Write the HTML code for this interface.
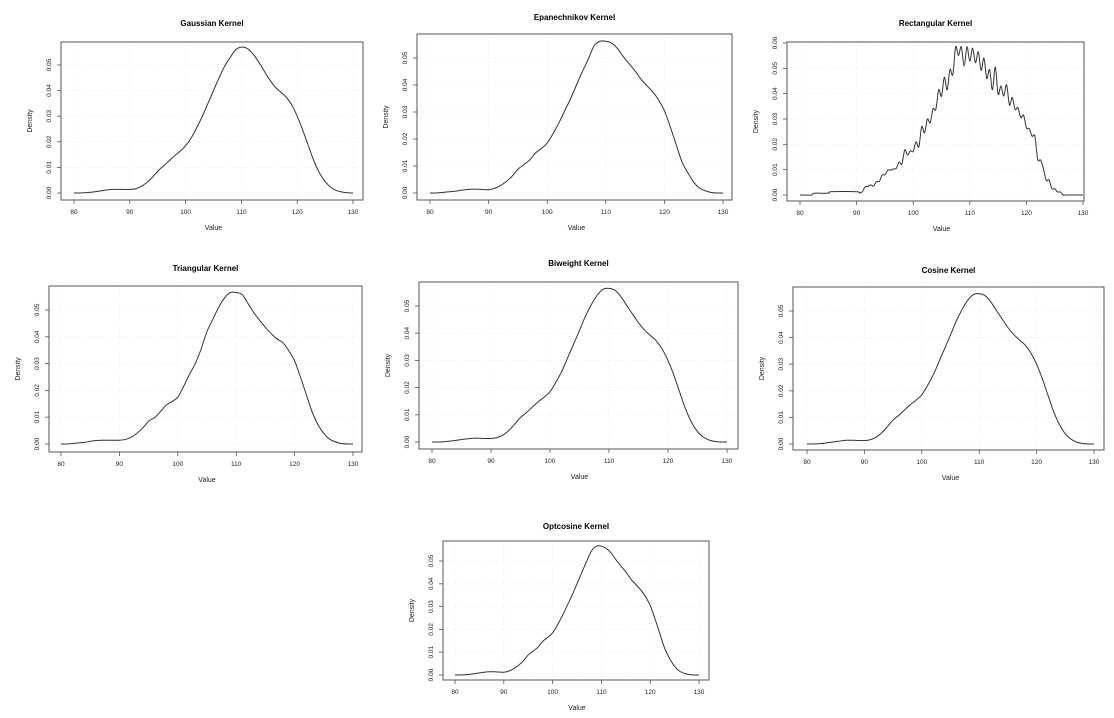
<!DOCTYPE html>
<html><head><meta charset="utf-8">
<style>
html,body{margin:0;padding:0;background:#fff;}
svg{display:block;font-family:"Liberation Sans",sans-serif;}
.t{font-size:8px;font-weight:bold;fill:#000;text-anchor:middle;}
.tk{font-size:6.5px;fill:#222;text-anchor:middle;}
.lab{font-size:7px;fill:#222;text-anchor:middle;}
</style></head>
<body>
<svg id="chart" width="1114" height="718" viewBox="0 0 1114 718"></svg>
<script>
const xTicks=[80,90,100,110,120,130];
const yTicksStd=[0,0.01,0.02,0.03,0.04,0.05];
const yTicksRect=[0,0.01,0.02,0.03,0.04,0.05,0.06];
const gridX=[80,81,82,83,84,85,86,87,88,89,90,91,92,93,94,95,96,97,98,99,100,101,102,103,104,105,106,107,108,109,110,111,112,113,114,115,116,117,118,119,120,121,122,123,124,125,126,127,128,129,130];
const gaussianY=[0,0,0.0001,0.0003,0.0006,0.0009,0.0012,0.0014,0.0014,0.0014,0.0014,0.0016,0.0025,0.004,0.006,0.0085,0.0105,0.0125,0.0145,0.0163,0.0185,0.0215,0.0255,0.030,0.035,0.040,0.045,0.0495,0.053,0.056,0.057,0.0565,0.0545,0.0515,0.048,0.0445,0.0415,0.0395,0.0375,0.0345,0.030,0.0245,0.0185,0.0125,0.0078,0.0045,0.0022,0.001,0.0004,0.0001,0];
const epanY=[0,0,0.0002,0.0004,0.0006,0.0009,0.0012,0.0014,0.0014,0.0013,0.0012,0.0017,0.0027,0.0042,0.0062,0.0088,0.0105,0.0122,0.0148,0.0165,0.0185,0.022,0.026,0.0305,0.035,0.040,0.045,0.0495,0.0545,0.0562,0.0562,0.0555,0.0535,0.0505,0.0478,0.0452,0.0422,0.0398,0.0375,0.0345,0.0305,0.0245,0.018,0.0115,0.0075,0.004,0.0018,0.0008,0.0002,0,0];
const triY=[0,0,0.0002,0.0004,0.0006,0.001,0.0013,0.0014,0.0014,0.0014,0.0014,0.0017,0.0025,0.004,0.006,0.0085,0.0098,0.012,0.0145,0.0158,0.0175,0.0215,0.026,0.030,0.0355,0.042,0.0465,0.051,0.0545,0.0565,0.0565,0.0558,0.0525,0.049,0.0462,0.0435,0.0412,0.0392,0.0378,0.0348,0.031,0.025,0.0185,0.012,0.0072,0.004,0.0018,0.0008,0.0002,0,0];
const biY=[0,0,0.0001,0.0003,0.0006,0.0009,0.0012,0.0014,0.0014,0.0013,0.0013,0.0016,0.0025,0.0042,0.0065,0.009,0.0108,0.0128,0.0148,0.0165,0.0185,0.022,0.026,0.031,0.036,0.041,0.0462,0.0505,0.054,0.0562,0.0565,0.0558,0.0535,0.0502,0.047,0.0438,0.0412,0.0392,0.0372,0.0342,0.030,0.0245,0.0182,0.012,0.0072,0.0038,0.0018,0.0007,0.0002,0,0];
const cosY=[0,0,0.0001,0.0003,0.0006,0.0009,0.0012,0.0014,0.0014,0.0013,0.0013,0.0016,0.0025,0.0042,0.0065,0.009,0.0108,0.0128,0.0148,0.0165,0.0185,0.022,0.026,0.031,0.036,0.041,0.0462,0.0505,0.054,0.0562,0.0565,0.0558,0.0535,0.0502,0.047,0.0438,0.0412,0.0392,0.0372,0.0342,0.030,0.0245,0.0182,0.012,0.0072,0.0038,0.0018,0.0007,0.0002,0,0];
const optY=[0,0,0.0001,0.0003,0.0006,0.0009,0.0012,0.0014,0.0014,0.0013,0.0012,0.0017,0.0027,0.0042,0.0062,0.0088,0.0105,0.0122,0.0148,0.0165,0.0185,0.022,0.026,0.0305,0.035,0.040,0.045,0.050,0.0545,0.0565,0.0565,0.0555,0.0535,0.0505,0.0478,0.0452,0.0422,0.0398,0.0375,0.0345,0.0305,0.0245,0.018,0.0115,0.0072,0.0038,0.0017,0.0007,0.0002,0,0];
const rectX=[80,82,82.5,85,85.5,90,90.5,91,91.5,92,92.5,93,93.5,94,94.5,95,95.5,96,96.5,97,97.5,98,98.5,99,99.5,100,100.5,101,101.5,102,102.5,103,103.5,104,104.5,105,105.5,106,106.5,107,107.5,108,108.5,109,109.5,110,110.5,111,111.5,112,112.5,113,113.5,114,114.5,115,115.5,116,116.5,117,117.5,118,118.5,119,119.5,120,120.5,121,121.5,122,122.5,123,123.5,124,124.5,125,125.5,126,126.5,127,130];
const rectY=[0,0,0.0007,0.0007,0.0013,0.0013,0.0008,0.0012,0.0032,0.0033,0.004,0.0035,0.0053,0.0053,0.0078,0.008,0.0098,0.0098,0.0103,0.0105,0.013,0.0122,0.0178,0.0158,0.0175,0.0172,0.021,0.019,0.027,0.0245,0.030,0.0285,0.034,0.0338,0.0415,0.039,0.0465,0.0415,0.0495,0.0475,0.0585,0.055,0.0585,0.0508,0.0585,0.0528,0.058,0.0522,0.0565,0.0492,0.054,0.046,0.0495,0.0415,0.0505,0.0398,0.043,0.039,0.0435,0.0355,0.0385,0.0338,0.0345,0.0305,0.0315,0.0265,0.0262,0.0232,0.0232,0.014,0.0138,0.0105,0.0058,0.006,0.0025,0.0025,0.0012,0.0012,0,0,0];

const NS='http://www.w3.org/2000/svg';
const svg=document.getElementById('chart');
function mk(tag,attrs,parent){const e=document.createElementNS(NS,tag);for(const k in attrs)e.setAttribute(k,attrs[k]);(parent||svg).appendChild(e);return e;}

const panels=[
 {name:'gaussian',title:'Gaussian Kernel',l:61,t:42,r:363,b:200,x0:74,x1:353,y0:193,y5:65,ty:26,xs:gridX,ys:gaussianY,yt:yTicksStd},
 {name:'epanechnikov',title:'Epanechnikov Kernel',l:417,t:34,r:732,b:200,x0:430,x1:723,y0:193,y5:58,ty:20,xs:gridX,ys:epanY,yt:yTicksStd},
 {name:'rectangular',title:'Rectangular Kernel',l:787,t:42,r:1084,b:201,x0:800,x1:1083,y0:195,y5:68.3,ty:26,xs:rectX,ys:rectY,yt:yTicksRect},
 {name:'triangular',title:'Triangular Kernel',l:49,t:286,r:362,b:452,x0:61,x1:353,y0:444,y5:310,ty:271,xs:gridX,ys:triY,yt:yTicksStd},
 {name:'biweight',title:'Biweight Kernel',l:419,t:282,r:738,b:449,x0:432,x1:727,y0:442,y5:306,ty:266,xs:gridX,ys:biY,yt:yTicksStd},
 {name:'cosine',title:'Cosine Kernel',l:793,t:287,r:1104,b:450,x0:807,x1:1094,y0:444,y5:311,ty:273,xs:gridX,ys:cosY,yt:yTicksStd},
 {name:'optcosine',title:'Optcosine Kernel',l:443,t:541,r:709,b:680,x0:455,x1:699,y0:675,y5:561,ty:529,xs:gridX,ys:optY,yt:yTicksStd}
];

panels.forEach(p=>{
  const g=mk('g',{});
  
  
  const X=v=>p.x0+(v-80)/50*(p.x1-p.x0);
  const Y=v=>p.y0-v/0.05*(p.y0-p.y5);
  const title=mk('text',{x:(p.l+p.r)/2,y:p.ty,class:'t'},g);title.textContent=p.title;
  
  
  // grid
  xTicks.forEach(v=>{const l=mk('line',{x1:X(v),x2:X(v),y1:p.t,y2:p.b,stroke:'#e6e6e6','stroke-width':0.6,'stroke-dasharray':'1,2'},g);
    });
  p.yt.forEach(v=>{const l=mk('line',{x1:p.l,x2:p.r,y1:Y(v),y2:Y(v),stroke:'#e6e6e6','stroke-width':0.6,'stroke-dasharray':'1,2'},g);
    });
  // curve (Catmull-Rom)
  const pts=p.xs.map((x,i)=>[X(x),Y(p.ys[i])]);
  let d='M'+pts[0][0].toFixed(2)+','+pts[0][1].toFixed(2);
  for(let i=0;i<pts.length-1;i++){
    const p0=pts[Math.max(0,i-1)],p1=pts[i],p2=pts[i+1],p3=pts[Math.min(pts.length-1,i+2)];
    const c1=[p1[0]+(p2[0]-p0[0])/6,p1[1]+(p2[1]-p0[1])/6];
    const c2=[p2[0]-(p3[0]-p1[0])/6,p2[1]-(p3[1]-p1[1])/6];
    d+=' C'+c1[0].toFixed(2)+','+c1[1].toFixed(2)+' '+c2[0].toFixed(2)+','+c2[1].toFixed(2)+' '+p2[0].toFixed(2)+','+p2[1].toFixed(2);
  }
  const c=mk('path',{d:d,fill:'none',stroke:'#333','stroke-width':1},g);
  
  
  // box
  const b=mk('rect',{x:p.l,y:p.t,width:p.r-p.l,height:p.b-p.t,fill:'none',stroke:'#555','stroke-width':1},g);
  
  
  // x ticks
  xTicks.forEach(v=>{
    mk('line',{x1:X(v),x2:X(v),y1:p.b,y2:p.b+4,stroke:'#555','stroke-width':0.8},g);
    const t=mk('text',{x:X(v),y:p.b+14,class:'tk'},g);t.textContent=v;
    
  });
  p.yt.forEach(v=>{
    mk('line',{x1:p.l,x2:p.l-4,y1:Y(v),y2:Y(v),stroke:'#555','stroke-width':0.8},g);
    const t=mk('text',{x:p.l-10,y:Y(v),class:'tk',transform:'rotate(-90 '+(p.l-10)+' '+Y(v)+')'},g);t.textContent=v.toFixed(2);
    
  });
  const xl=mk('text',{x:(p.x0+p.x1)/2,y:p.b+30,class:'lab'},g);xl.textContent='Value';
  
  const ym=(p.t+p.b)/2;
  const yl=mk('text',{x:p.l-29,y:ym,class:'lab',transform:'rotate(-90 '+(p.l-29)+' '+ym+')'},g);yl.textContent='Density';
  
});
</script>
</body></html>
